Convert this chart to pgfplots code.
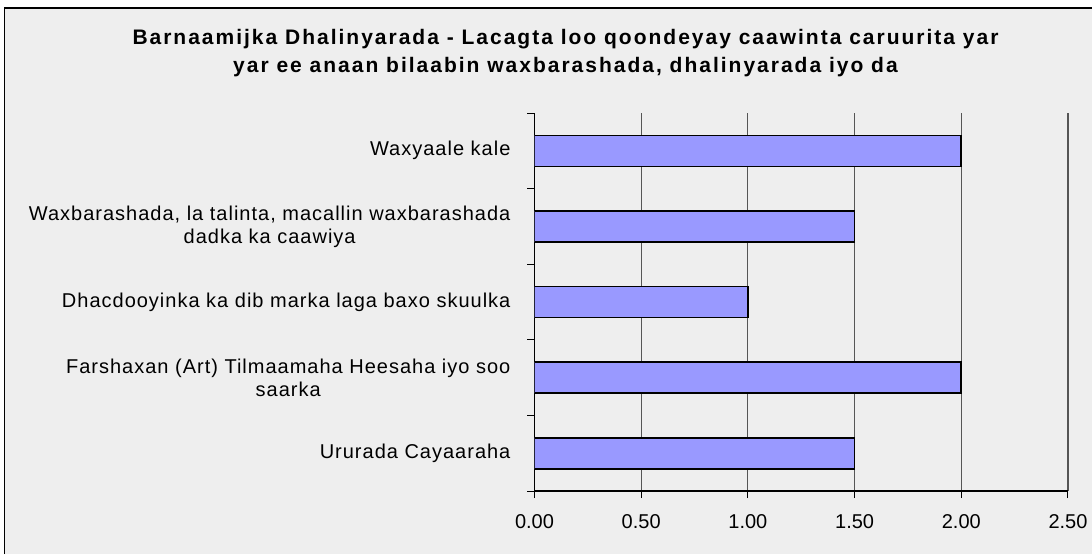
\documentclass[border=0pt]{standalone}
\usepackage{fontspec}
\setmainfont{Liberation Sans}
\newfontfamily\lsfont[LetterSpace=5]{Liberation Sans}
\newfontfamily\titlefont[LetterSpace=9.5]{Liberation Sans}
\usepackage{pgfplots}
\pgfplotsset{compat=1.18}
\definecolor{bg}{HTML}{EEEEEE}
\definecolor{barc}{HTML}{9999FF}
\definecolor{gridc}{HTML}{555555}
\begin{document}
\begin{tikzpicture}
\useasboundingbox (-267.25pt,-31.5pt) rectangle (278.75pt,245.5pt);
\fill[white] (-267.25pt,-31.5pt) rectangle (278.75pt,245.5pt);
\fill[bg] (-265pt,-31.5pt) rectangle (278.75pt,241.5pt);
\draw[black, line width=0.6pt] (-265pt,-31.5pt) -- (-265pt,241.5pt) -- (278.75pt,241.5pt);
\begin{axis}[
  at={(0,0)}, anchor=south west, scale only axis,
  width=266.75pt, height=189pt,
  xmin=0, xmax=2.5, ymin=0.5, ymax=5.5,
  axis x line*=bottom, axis y line*=left,
  axis line style={-, black, line width=0.6pt},
  xtick={0,0.5,1,1.5,2,2.5},
  xmajorgrids, major grid style={gridc, line width=0.55pt},
  tick align=outside, major tick length=3.5pt, minor tick length=3.5pt,
  x tick style={black, line width=0.5pt},
  ytick={1,2,3,4,5},
  minor ytick={0.5,1.5,2.5,3.5,4.5,5.5},
  major y tick style={draw=none},
  minor y tick style={black, line width=0.5pt},
  /pgf/number format/assume math mode=true,
  /pgf/number format/fixed,
  /pgf/number format/fixed zerofill,
  /pgf/number format/precision=2,
  xticklabel style={font=\fontsize{10}{12}\selectfont, yshift=-4.5pt},
  yticklabels={{Ururada Cayaaraha},{Farshaxan (Art) Tilmaamaha Heesaha iyo soo\\saarka},{Dhacdooyinka ka dib marka laga baxo skuulka},{Waxbarashada, la talinta, macallin waxbarashada\\dadka ka caawiya},{Waxyaale kale}},
  yticklabel style={align=center, font=\lsfont\fontsize{10}{11.5}\selectfont, xshift=-5pt},
]
\addplot[xbar, bar width=15.5pt, fill=barc, draw=black, line width=0.8pt]
  coordinates {(1.5,1) (2,2) (1,3) (1.5,4) (2,5)};
\end{axis}
\node[align=center, font=\titlefont\bfseries\fontsize{10.5}{14}\selectfont] at (15.5pt,219pt)
  {Barnaamijka Dhalinyarada - Lacagta loo qoondeyay caawinta caruurita yar\\yar ee anaan bilaabin waxbarashada, dhalinyarada iyo da};
\end{tikzpicture}
\end{document}
